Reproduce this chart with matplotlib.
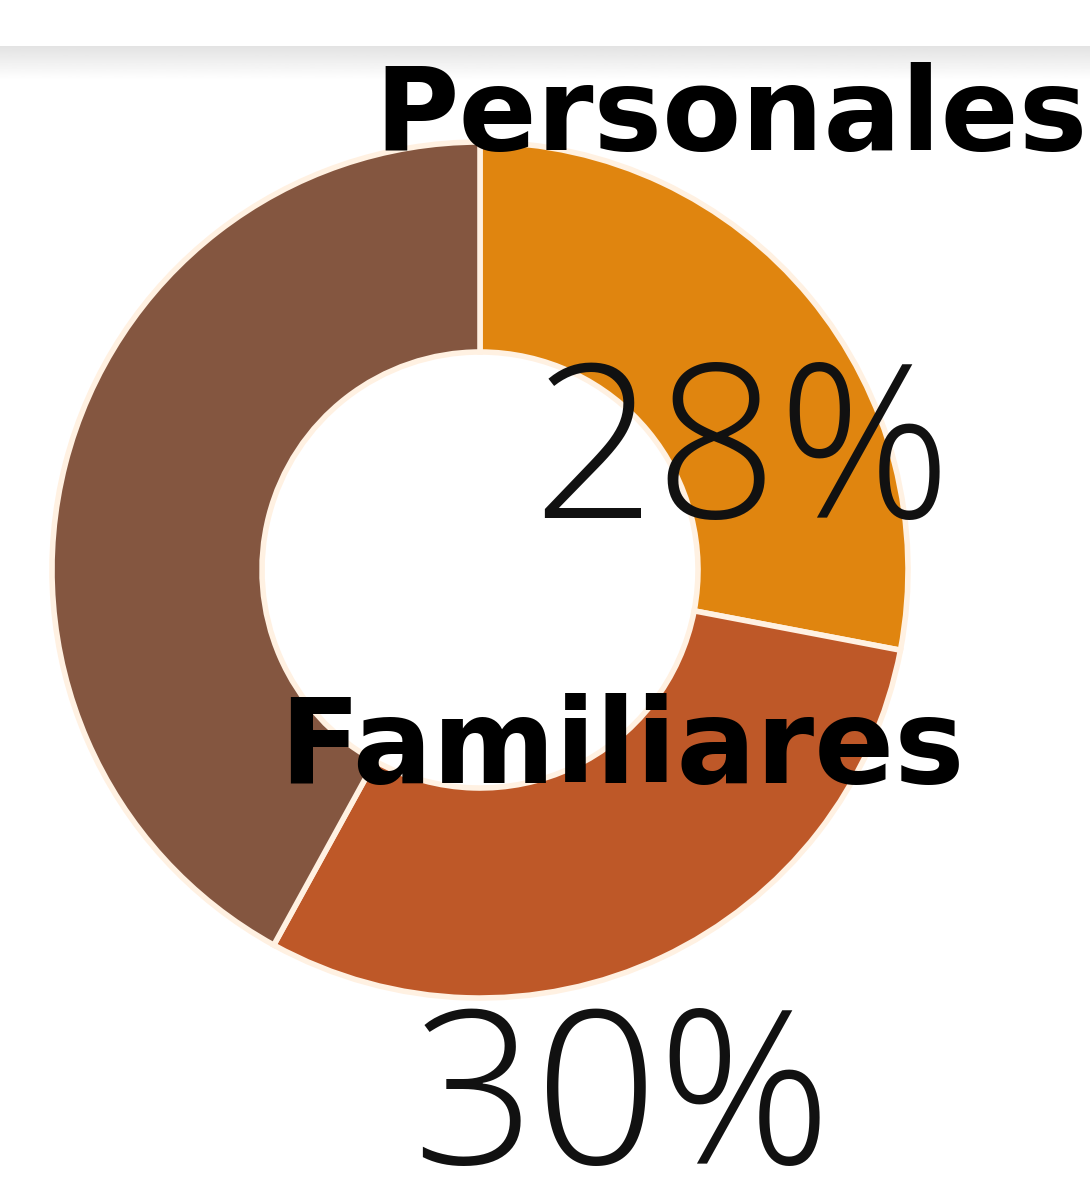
import numpy as np
import matplotlib.pyplot as plt

# datos del grafico
etiquetas = ['Personales', 'Familiares', 'Otros']
valores = [28, 30, 42]
colores = ['#E0850F', '#BE5828', '#845640']
textos_pct = ['28%', '30%']

W, H = 1090, 1181
fig = plt.figure(figsize=(W / 100, H / 100), dpi=100)
ax = fig.add_axes([0, 0, 1, 1])

# franja gris arriba
grad = np.linspace(0.89, 1.0, 40).reshape(-1, 1)
ax.imshow(grad, cmap='gray', vmin=0, vmax=1, extent=[0, W, H - 80, H - 46],
          aspect='auto', zorder=0)

ax.pie(valores, colors=colores, startangle=90, counterclock=False,
       center=(480, H - 570), radius=428,
       wedgeprops=dict(width=210, edgecolor='#FFF1E2', linewidth=4),
       frame=True)
ax.set_xlim(0, W)
ax.set_ylim(0, H)
ax.set_aspect('equal')
ax.axis('off')

# etiquetas
ax.text(731, H - 150, etiquetas[0], fontsize=83, fontweight='heavy',
        family='DejaVu Sans', ha='center', va='baseline',
        color='black', zorder=5)
ax.text(622, H - 783, etiquetas[1], fontsize=85, fontweight='heavy',
        family='DejaVu Sans', ha='center', va='baseline',
        color='black', zorder=5)

ax.text(742, H - 518, textos_pct[0], fontsize=155, fontweight='light',
        family='Open Sans', ha='center', va='baseline', color='#111111', zorder=5)
ax.text(622, H - 1164, textos_pct[1], fontsize=155, fontweight='light',
        family='Open Sans', ha='center', va='baseline', color='#111111', zorder=5)

fig.savefig('out.png', dpi=100, facecolor='white')
